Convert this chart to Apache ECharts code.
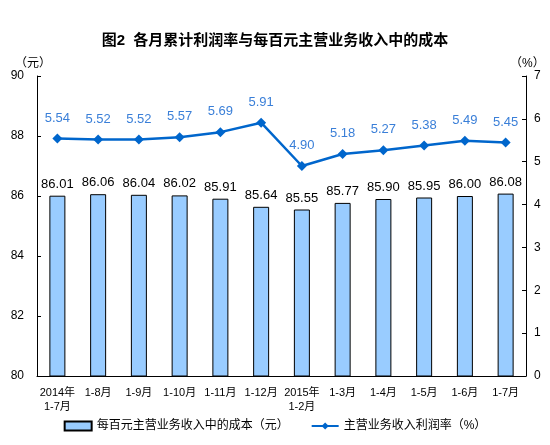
<!DOCTYPE html>
<html>
<head>
<meta charset="utf-8">
<script src="https://cdn.jsdelivr.net/npm/echarts@6/dist/echarts.min.js"></script>
<style>
  html, body { margin: 0; padding: 0; background: #fff; }
  #main { width: 550px; height: 445px; }
</style>
</head>
<body>
<div id="main"></div>
<script>
var months = ['2014年\n1-7月', '1-8月', '1-9月', '1-10月', '1-11月', '1-12月',
    '2015年\n1-2月', '1-3月', '1-4月', '1-5月', '1-6月', '1-7月'];
var costPerHundred = [86.01, 86.06, 86.04, 86.02, 85.91, 85.64, 85.55, 85.77, 85.90, 85.95, 86.00, 86.08];
var profitRate = [5.54, 5.52, 5.52, 5.57, 5.69, 5.91, 4.90, 5.18, 5.27, 5.38, 5.49, 5.45];

var cjk = '"Liberation Sans", Arial, "Noto Sans CJK SC", sans-serif';
var myChart = echarts.init(document.getElementById('main'));

var option = {
    backgroundColor: '#fff',
    textStyle: { fontFamily: cjk },
    title: {
        text: '图2  各月累计利润率与每百元主营业务收入中的成本',
        left: 'center',
        top: 28,
        textStyle: { fontSize: 15, fontWeight: 'bold', color: '#000', fontFamily: cjk }
    },
    legend: {
        bottom: 8,
        left: 'center',
        itemGap: 22,
        itemWidth: 27,
        itemHeight: 9,
        textStyle: { fontSize: 12, color: '#000' },
        data: [
            { name: '每百元主营业务收入中的成本（元）', icon: 'rect' },
            { name: '主营业务收入利润率（%）' }
        ]
    },
    grid: { left: 37, right: 24, top: 76, bottom: 69 },
    xAxis: {
        type: 'category',
        data: months,
        boundaryGap: true,
        axisLine: { lineStyle: { color: '#000', width: 1 } },
        axisTick: { inside: true, length: 3, lineStyle: { color: '#000' } },
        axisLabel: { color: '#000', fontSize: 11, lineHeight: 14, margin: 10, interval: 0 }
    },
    yAxis: [
        {
            type: 'value',
            name: '（元）',
            nameGap: 6,
            nameTextStyle: { color: '#000', fontSize: 12, align: 'right', padding: [0, -14, 0, 0] },
            min: 80, max: 90, interval: 2,
            axisLine: { show: true, lineStyle: { color: '#000' } },
            axisTick: { show: true, inside: true, length: 4, lineStyle: { color: '#000' } },
            axisLabel: { color: '#000', fontSize: 12, margin: 13 },
            splitLine: { show: false }
        },
        {
            type: 'value',
            name: '（%）',
            nameGap: 6,
            nameTextStyle: { color: '#000', fontSize: 12, align: 'left', padding: [0, 0, 0, -16] },
            min: 0, max: 7, interval: 1,
            axisLine: { show: true, lineStyle: { color: '#000' } },
            axisTick: { show: true, inside: true, length: 4, lineStyle: { color: '#000' } },
            axisLabel: { color: '#000', fontSize: 12, margin: 8 },
            splitLine: { show: false }
        }
    ],
    series: [
        {
            name: '每百元主营业务收入中的成本（元）',
            type: 'bar',
            yAxisIndex: 0,
            barWidth: 16,
            data: costPerHundred,
            itemStyle: { color: '#99CCFF', borderColor: '#000', borderWidth: 1 },
            label: {
                show: true,
                position: 'top',
                distance: 5,
                color: '#000',
                fontSize: 13,
                formatter: function (p) { return p.value.toFixed(2); }
            }
        },
        {
            name: '主营业务收入利润率（%）',
            type: 'line',
            yAxisIndex: 1,
            data: profitRate,
            symbol: 'diamond',
            symbolSize: 10,
            lineStyle: { color: '#0066CC', width: 2.5 },
            itemStyle: { color: '#0066CC' },
            label: {
                show: true,
                position: 'top',
                distance: 9,
                color: '#3A7FD8',
                fontSize: 13,
                formatter: function (p) { return p.value.toFixed(2); }
            }
        }
    ]
};
myChart.setOption(option);
</script>
</body>
</html>
